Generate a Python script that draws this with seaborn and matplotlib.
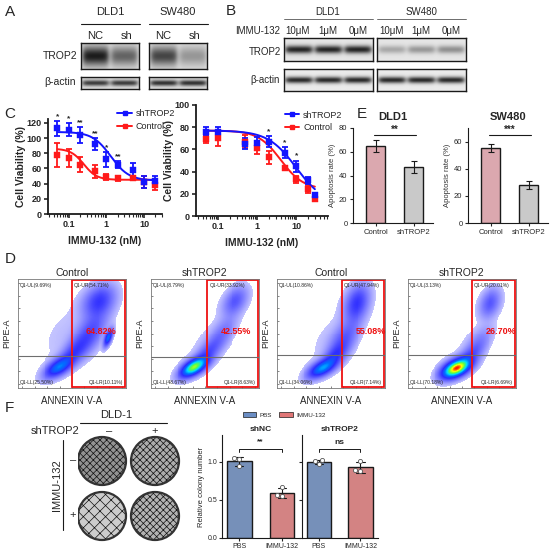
import numpy as np
import pandas as pd
import seaborn as sns
import matplotlib.pyplot as plt
from matplotlib.lines import Line2D
from matplotlib.patches import Rectangle, Circle, Patch
from matplotlib.colors import LinearSegmentedColormap

# ---------------- data ----------------
# A: western blot band strength (0 none .. 1 saturated)
a_cells = ["DLD1", "SW480"]
a_lanes = ["NC", "sh"]
a_trop2 = [[0.95, 0.6], [0.75, 0.35]]
a_actin = [[0.8, 0.8], [0.85, 0.85]]

# B
b_cells = ["DLD1", "SW480"]
b_lanes = ["10μM", "1μM", "0μM"]
b_trop2 = [[0.95, 0.95, 0.95], [0.3, 0.38, 0.42]]
b_actin = [[0.95, 0.95, 0.95], [0.95, 0.95, 0.95]]

# C: cell viability (%)
dose_l = [0.05, 0.1, 0.2, 0.5, 1, 2, 5, 10, 20]
sh_l = [113, 111, 104, 92, 72, 65, 58, 42, 44]
sh_err_l = [10, 9, 10, 8, 10, 5, 9, 8, 6]
ctl_l = [78, 74, 65, 56, 49, 47, 48, 42, 38]
ctl_err_l = [16, 12, 10, 8, 4, 3, 2, 8, 7]
stars_l = ["*", "*", "**", "**", "*", "**"]

dose_r = [0.05, 0.1, 0.5, 1, 2, 5, 10, 20, 30]
sh_r = [76, 76, 65, 66, 67, 57, 45, 32, 19]
sh_err_r = [4, 4, 5, 5, 5, 5, 5, 3, 1]
ctl_r = [69, 70, 67, 61, 53, 43, 33, 24, 15]
ctl_err_r = [3, 7, 6, 5, 6, 2, 3, 3, 1]
stars_r = {2: "*", 5: "*", 10: "*"}

# 4PL fit parameters: top, bottom, ec50, hill
fit_l = {"shTROP2": (108, 44, 1.3, 1.8), "Control": (86, 45, 0.25, 2.5)}
fit_r = {"shTROP2": (77, 10, 10, 1.2), "Control": (77, 24, 4, 1.5)}

# D: flow cytometry
flow_titles = ["Control", "shTROP2", "Control", "shTROP2"]
flow_quads = [
    ["9.69", "54.71", "25.50", "10.11"],
    ["8.79", "33.92", "48.67", "8.63"],
    ["10.86", "47.94", "34.06", "7.14"],
    ["3.13", "20.01", "70.18", "6.69"],
]
flow_total = ["64.82%", "42.55%", "55.08%", "26.70%"]
flow_gate_x = [0.5, 0.52, 0.6, 0.59]
flow_gate_y = [0.29, 0.28, 0.3, 0.3]
# populations (axes fractions): cx, cy, sx, sy, rho, weight
flow_pops = [
    [(0.38, 0.19, 0.08, 0.06, 0.6, 1.0), (0.52, 0.33, 0.08, 0.08, 0.6, 0.5),
     (0.66, 0.50, 0.10, 0.13, 0.6, 1.2), (0.75, 0.80, 0.09, 0.09, 0.3, 1.1),
     (0.84, 0.46, 0.025, 0.05, 0.6, 0.25), (0.42, 0.50, 0.18, 0.23, 0.5, 0.3)],
    [(0.40, 0.19, 0.075, 0.055, 0.6, 1.6), (0.52, 0.32, 0.07, 0.07, 0.6, 0.3),
     (0.64, 0.47, 0.09, 0.12, 0.7, 0.55), (0.78, 0.80, 0.07, 0.08, 0.4, 0.5),
     (0.42, 0.45, 0.18, 0.23, 0.4, 0.2)],
    [(0.42, 0.18, 0.08, 0.055, 0.6, 1.0), (0.54, 0.30, 0.07, 0.07, 0.6, 0.4),
     (0.62, 0.45, 0.09, 0.12, 0.6, 0.8), (0.74, 0.78, 0.07, 0.10, 0.3, 1.0),
     (0.46, 0.45, 0.18, 0.23, 0.5, 0.25)],
    [(0.45, 0.18, 0.08, 0.055, 0.5, 2.4), (0.58, 0.30, 0.07, 0.07, 0.6, 0.3),
     (0.66, 0.42, 0.08, 0.10, 0.6, 0.3), (0.76, 0.78, 0.06, 0.08, 0.3, 0.45),
     (0.46, 0.40, 0.18, 0.20, 0.5, 0.12)],
]

# E: apoptosis rate (%)
e_cells = ["DLD1", "SW480"]
e_groups = ["Control", "shTROP2"]
e_mean = [[65, 47], [55, 28]]
e_err = [[5, 5], [3, 3]]
e_sig = ["**", "***"]

# F: colony formation
f_plate = [[0.85, 0.65], [0.4, 0.6]]  # rows IMMU-132 -/+, cols shTROP2 -/+
f_groups = ["shNC", "shTROP2"]
f_treat = ["PBS", "IMMU-132"]
f_reps = {
    ("shNC", "PBS"): [1.03, 1.05, 0.94],
    ("shNC", "IMMU-132"): [0.67, 0.56, 0.55],
    ("shTROP2", "PBS"): [0.97, 1.01, 1.02],
    ("shTROP2", "IMMU-132"): [1.01, 0.88, 0.89],
}
f_sig = ["**", "ns"]

# ---------------- layout helpers ----------------
W, H = 550, 551
sns.set_theme(style="ticks")
plt.rcParams["font.family"] = ["Liberation Sans", "DejaVu Sans"]
plt.rcParams["hatch.linewidth"] = 0.5
fig = plt.figure(figsize=(W / 100, H / 100), dpi=100)


def add_ax(x0, y0, x1, y1):
    return fig.add_axes([x0 / W, 1 - y1 / H, (x1 - x0) / W, (y1 - y0) / H])


def txt(x, y, s, **kw):
    kw.setdefault("ha", "center")
    kw.setdefault("va", "center")
    fig.text(x / W, 1 - y / H, s, **kw)


def hline(x0, x1, y, lw=0.8, color="k"):
    fig.add_artist(Line2D([x0 / W, x1 / W], [1 - y / H, 1 - y / H], color=color, lw=lw))


def vline(x, y0, y1, lw=0.8, color="k"):
    fig.add_artist(Line2D([x / W, x / W], [1 - y0 / H, 1 - y1 / H], color=color, lw=lw))


def blot(ax, levels, thick, bg=0.87):
    ny, nx = 50, 240
    n = len(levels)
    yy = np.linspace(-1, 1, ny)[:, None]
    xx = np.linspace(0, n, nx)[None, :]
    img = np.full((ny, nx), bg)
    for i, lv in enumerate(levels):
        lane = 1 / (1 + np.exp(-(xx - i - 0.06) / 0.05)) / (1 + np.exp((xx - i - 0.94) / 0.05))
        img = img - lv * 0.8 * lane * np.exp(-(yy / thick) ** 2)
    ax.imshow(img, cmap="gray", vmin=0, vmax=1, aspect="auto", extent=(0, n, 0, 1))
    ax.set_xticks([])
    ax.set_yticks([])
    for s in ax.spines.values():
        s.set_color("k")
        s.set_linewidth(1.0)


# ---------------- A ----------------
txt(10, 12, "A", fontsize=11)
for i, cell in enumerate(a_cells):
    x0 = 81 + i * 68
    txt(x0 + 29, 12, cell, fontsize=8)
    hline(x0, x0 + 59, 24)
    for j, lane in enumerate(a_lanes):
        txt(x0 + 14 + j * 32, 36, lane, fontsize=8)
    blot(add_ax(x0, 43, x0 + 58, 69), a_trop2[i], 0.75)
    blot(add_ax(x0, 77, x0 + 58, 89), a_actin[i], 0.5)
txt(60, 56, "TROP2", fontsize=7.5)
txt(60, 82, "β-actin", fontsize=7.5)

# ---------------- B ----------------
txt(231, 11, "B", fontsize=11)
txt(258, 31, "IMMU-132", fontsize=7)
for i, cell in enumerate(b_cells):
    x0 = 284 + i * 93
    txt(x0 + 44, 12, cell, fontsize=7)
    hline(x0, x0 + 89, 19, lw=0.6, color="#555555")
    for j, lane in enumerate(b_lanes):
        txt(x0 + 14 + j * 30, 31, lane, fontsize=7)
    blot(add_ax(x0, 38, x0 + 89, 61), b_trop2[i], 0.35, bg=0.9)
    blot(add_ax(x0, 69, x0 + 89, 91), b_actin[i], 0.3, bg=0.92)
txt(265, 52, "TROP2", fontsize=7)
txt(265, 80, "β-actin", fontsize=7)

# ---------------- C ----------------
txt(10, 114, "C", fontsize=11)
c_blue, c_red = "#1414ff", "#ff1a1a"


def four_pl(x, p):
    top, bottom, ec50, hill = p
    return bottom + (top - bottom) / (1 + (x / ec50) ** hill)


def viab_panel(ax, dose, sh, sh_err, ctl, ctl_err, fits, xlim, ylim, yticks):
    xg = np.logspace(np.log10(dose[0]), np.log10(dose[-1]), 200)
    for name, vals, errs, col in [("Control", ctl, ctl_err, c_red), ("shTROP2", sh, sh_err, c_blue)]:
        sns.lineplot(x=xg, y=four_pl(xg, fits[name]), color=col, lw=1.4, ax=ax)
        ax.errorbar(dose, vals, yerr=errs, fmt="none", ecolor=col, elinewidth=1.3,
                    capsize=2.5, capthick=1.3)
        sns.scatterplot(x=dose, y=vals, color=col, marker="s", s=14, edgecolor=col, ax=ax, zorder=5)
    ax.set_xscale("log")
    ax.set_xlim(*xlim)
    ax.set_ylim(*ylim)
    ax.set_xticks([0.1, 1, 10])
    ax.set_xticklabels(["0.1", "1", "10"])
    ax.set_yticks(yticks)
    ax.tick_params(labelsize=6.5, length=3, width=1.2, pad=1.5)
    ax.tick_params(which="minor", length=2, width=0.8)
    for lab in ax.get_xticklabels() + ax.get_yticklabels():
        lab.set_fontweight("bold")
    for s in ["left", "bottom"]:
        ax.spines[s].set_linewidth(1.3)
        ax.spines[s].set_color("k")
    sns.despine(ax=ax)
    ax.set_xlabel("IMMU-132 (nM)", fontsize=7.5, fontweight="bold", labelpad=5)
    ax.set_ylabel("Cell Viability (%)", fontsize=7.5, fontweight="bold", labelpad=0.5)


legend_handles = [
    Line2D([], [], color=c_blue, marker="s", ms=3, lw=1.4, label="shTROP2"),
    Line2D([], [], color=c_red, marker="s", ms=3, lw=1.4, label="Control"),
]

axc1 = add_ax(48, 119, 162, 214)
viab_panel(axc1, dose_l, sh_l, sh_err_l, ctl_l, ctl_err_l, fit_l, (0.028, 30), (0, 125),
           range(0, 121, 20))
for d, v, e, s in zip(dose_l, sh_l, sh_err_l, stars_l):
    axc1.text(d, v + e + 1, s, ha="center", va="bottom", fontsize=6, fontweight="bold")
axc1.legend(handles=legend_handles, loc="upper left", bbox_to_anchor=(0.57, 1.15), frameon=False,
            fontsize=6.5, handlelength=1.6, labelspacing=0.4, borderpad=0, handletextpad=0.4)

axc2 = add_ax(196, 105, 328, 216)
viab_panel(axc2, dose_r, sh_r, sh_err_r, ctl_r, ctl_err_r, fit_r, (0.027, 65), (0, 100),
           range(0, 101, 20))
for d, s in stars_r.items():
    i = dose_r.index(d)
    axc2.text(d, sh_r[i] + sh_err_r[i] + 1, s, ha="center", va="bottom", fontsize=6, fontweight="bold")
axc2.legend(handles=legend_handles, loc="upper left", bbox_to_anchor=(0.64, 0.99), frameon=False,
            fontsize=6.5, handlelength=1.6, labelspacing=0.4, borderpad=0, handletextpad=0.4)

# ---------------- E ----------------
txt(362, 114, "E", fontsize=11)
e_colors = {"Control": "#e3a0a9", "shTROP2": "#c9c9c9"}
e_boxes = [(353, 128, 433, 223), (468, 128, 548, 223)]
e_ylims = [(0, 80), (0, 70)]
e_yticks = [range(0, 81, 20), range(0, 61, 20)]
for i, cell in enumerate(e_cells):
    ax = add_ax(*e_boxes[i])
    df = pd.DataFrame({"group": e_groups, "rate": e_mean[i]})
    sns.barplot(data=df, x="group", y="rate", hue="group", palette=e_colors, width=0.5,
                edgecolor="k", linewidth=1.0, errorbar=None, legend=False, ax=ax)
    ax.errorbar([0, 1], e_mean[i], yerr=e_err[i], fmt="none", ecolor="k", elinewidth=0.8,
                capsize=2, capthick=0.8)
    ax.set_xlim(-0.6, 1.5)
    ax.set_ylim(*e_ylims[i])
    ax.set_yticks(e_yticks[i])
    ax.tick_params(labelsize=5.5, length=2.5, width=0.8, pad=1.5)
    ax.set_xlabel("")
    ax.set_ylabel("Apoptosis rate (%)", fontsize=5.5, color="#333333", labelpad=2)
    sns.despine(ax=ax)
    for s in ["left", "bottom"]:
        ax.spines[s].set_color("k")
        ax.spines[s].set_linewidth(0.8)
    ax.set_title(cell, fontsize=8, fontweight="bold", pad=6)
    top = e_ylims[i][1] * 0.93
    ax.plot([-0.05, 1.05], [top, top], color="k", lw=0.8, clip_on=False)
    ax.text(0.5, top, e_sig[i], ha="center", va="bottom", fontsize=7, fontweight="bold")

# ---------------- D ----------------
txt(10, 259, "D", fontsize=11)
flow_cmap = LinearSegmentedColormap.from_list(
    "flow", [(0, "#c8c8ff"), (0.3, "#7070ff"), (0.5, "#2e2eff"), (0.65, "#0070ff"),
             (0.76, "#00dcff"), (0.86, "#60ff40"), (0.94, "#ffff00"), (1, "#ff2000")])
flow_x0 = [18, 151, 277, 408]
n = 110
gx, gy = np.meshgrid((np.arange(n) + 0.5) / n, (np.arange(n) + 0.5) / n)
flow_dens = []
for pops in flow_pops:
    dens = np.zeros_like(gx)
    for cx, cy, sx, sy, r, w in pops:
        dx, dy = (gx - cx) / sx, (gy - cy) / sy
        q = (dx ** 2 - 2 * r * dx * dy + dy ** 2) / (1 - r ** 2)
        dens += w * np.exp(-0.5 * q) / (sx * sy * np.sqrt(1 - r ** 2))
    flow_dens.append(dens)
dmax = max(d.max() for d in flow_dens)

for k in range(4):
    x0 = flow_x0[k]
    ax = add_ax(x0, 279, x0 + 108, 388)
    rel = flow_dens[k] / dmax
    img = np.ma.masked_less(rel, 0.01) ** 0.4
    ax.imshow(img, cmap=flow_cmap, origin="lower", extent=(0, 1, 0, 1), vmin=0.15, vmax=1,
              interpolation="nearest", aspect="auto")
    ax.set_xlim(0, 1)
    ax.set_ylim(0, 1)
    gxk, gyk = flow_gate_x[k], flow_gate_y[k]
    ax.axhline(gyk, color="#6e6e6e", lw=0.8)
    ax.add_patch(Rectangle((gxk, 0.006), 0.99 - gxk, 0.988, fill=False, ec="#ee1111", lw=1.3))
    q = flow_quads[k]
    ax.text(0.02, 0.965, f"Q1-UL({q[0]}%)", fontsize=3.6, va="top", ha="left")
    ax.text(gxk + 0.02, 0.965, f"Q1-UR({q[1]}%)", fontsize=3.6, va="top", ha="left")
    ax.text(0.02, 0.03, f"Q1-LL({q[2]}%)", fontsize=3.6, va="bottom", ha="left")
    ax.text(0.97, 0.03, f"Q1-LR({q[3]}%)", fontsize=3.6, va="bottom", ha="right")
    ax.text(gxk + 0.27, 0.52, flow_total[k], color="#ee1111", fontsize=6.5, fontweight="bold",
            ha="center", va="center")
    ax.set_xticks(np.linspace(0.04, 0.96, 9))
    ax.set_yticks(np.linspace(0.04, 0.96, 9))
    ax.set_xticklabels([])
    ax.set_yticklabels([])
    ax.tick_params(length=1.5, width=0.5, colors="#555555", direction="in")
    for s in ax.spines.values():
        s.set_color("#777777")
        s.set_linewidth(0.6)
    ax.set_title(flow_titles[k], fontsize=7.5, pad=2)
    ax.set_xlabel("ANNEXIN V-A", fontsize=7, labelpad=2)
    ax.set_ylabel("PIPE-A", fontsize=6.5, labelpad=1.5)

# ---------------- F (plates) ----------------
txt(9, 408, "F", fontsize=11)
txt(116, 415, "DLD-1", fontsize=8)
hline(80, 167, 423)
txt(55, 431, "shTROP2", fontsize=8)
txt(109, 431, "–", fontsize=8)
txt(155, 431, "+", fontsize=8)
txt(57, 485, "IMMU-132", fontsize=8, rotation=90)
vline(63, 440, 530)
txt(73, 460, "–", fontsize=8)
txt(73, 515, "+", fontsize=8)
axp = add_ax(78, 434, 182, 545)
axp.set_xlim(78, 182)
axp.set_ylim(545, 434)
axp.axis("off")
plate_cx = [102, 155]
plate_cy = [461, 516]
for r in range(2):
    for c in range(2):
        d = f_plate[r][c]
        g = 1 - 0.5 * d
        axp.add_patch(Circle((plate_cx[c], plate_cy[r]), 24, fc=(g, g, g), ec="none"))
        axp.add_patch(Circle((plate_cx[c], plate_cy[r]), 24, fc="none", ec="#111111", lw=0,
                             hatch="xxxxx" if d > 0.5 else "xxx"))
        axp.add_patch(Circle((plate_cx[c], plate_cy[r]), 24, fc="none", ec="#333333", lw=1.6))

# ---------------- F (bars) ----------------
f_colors = {"PBS": "#6b8ec4", "IMMU-132": "#e07676"}
f_boxes = [(222, 435, 300, 538), (302, 435, 378, 538)]
for i, grp in enumerate(f_groups):
    ax = add_ax(*f_boxes[i])
    rows = [(t, v) for t in f_treat for v in f_reps[(grp, t)]]
    df = pd.DataFrame(rows, columns=["treat", "value"])
    sns.barplot(data=df, x="treat", y="value", hue="treat", palette=f_colors, width=0.58,
                edgecolor="k", linewidth=1.0, errorbar="sd", capsize=0.2, legend=False,
                err_kws={"color": "k", "linewidth": 0.8}, ax=ax)
    sns.swarmplot(data=df, x="treat", y="value", color="white", edgecolor="#555555", linewidth=0.6,
                  size=3, ax=ax)
    ax.set_xlim(-0.4, 1.42)
    ax.set_ylim(0, 1.35)
    ax.set_yticks([0, 0.5, 1.0])
    ax.tick_params(labelsize=5, length=2, width=0.8, pad=1.5)
    ax.set_xlabel("")
    sns.despine(ax=ax)
    for s in ["left", "bottom"]:
        ax.spines[s].set_color("k")
        ax.spines[s].set_linewidth(0.8)
    if i == 0:
        ax.set_yticklabels(["0.0", "0.5", "1.0"])
        ax.set_ylabel("Relative colony number", fontsize=5.5, labelpad=2)
    else:
        ax.set_yticklabels([])
        ax.set_ylabel("")
    ax.set_title(grp, fontsize=6, fontweight="bold", pad=3)
    yb = 1.17
    ax.plot([0, 0, 1, 1], [yb - 0.04, yb, yb, yb - 0.04], color="k", lw=0.7)
    ax.text(0.5, yb + 0.04, f_sig[i], ha="center", va="bottom", fontsize=6, fontweight="bold")

fig.legend(handles=[Patch(fc=f_colors[t], ec="k", lw=0.5, label=t) for t in f_treat],
           loc="center", bbox_to_anchor=(284 / W, 1 - 415 / H), ncol=2, frameon=False,
           fontsize=4.5, handlelength=2.2, handleheight=0.8, columnspacing=1.2, handletextpad=0.5)

fig.savefig("out.png", dpi=100)
